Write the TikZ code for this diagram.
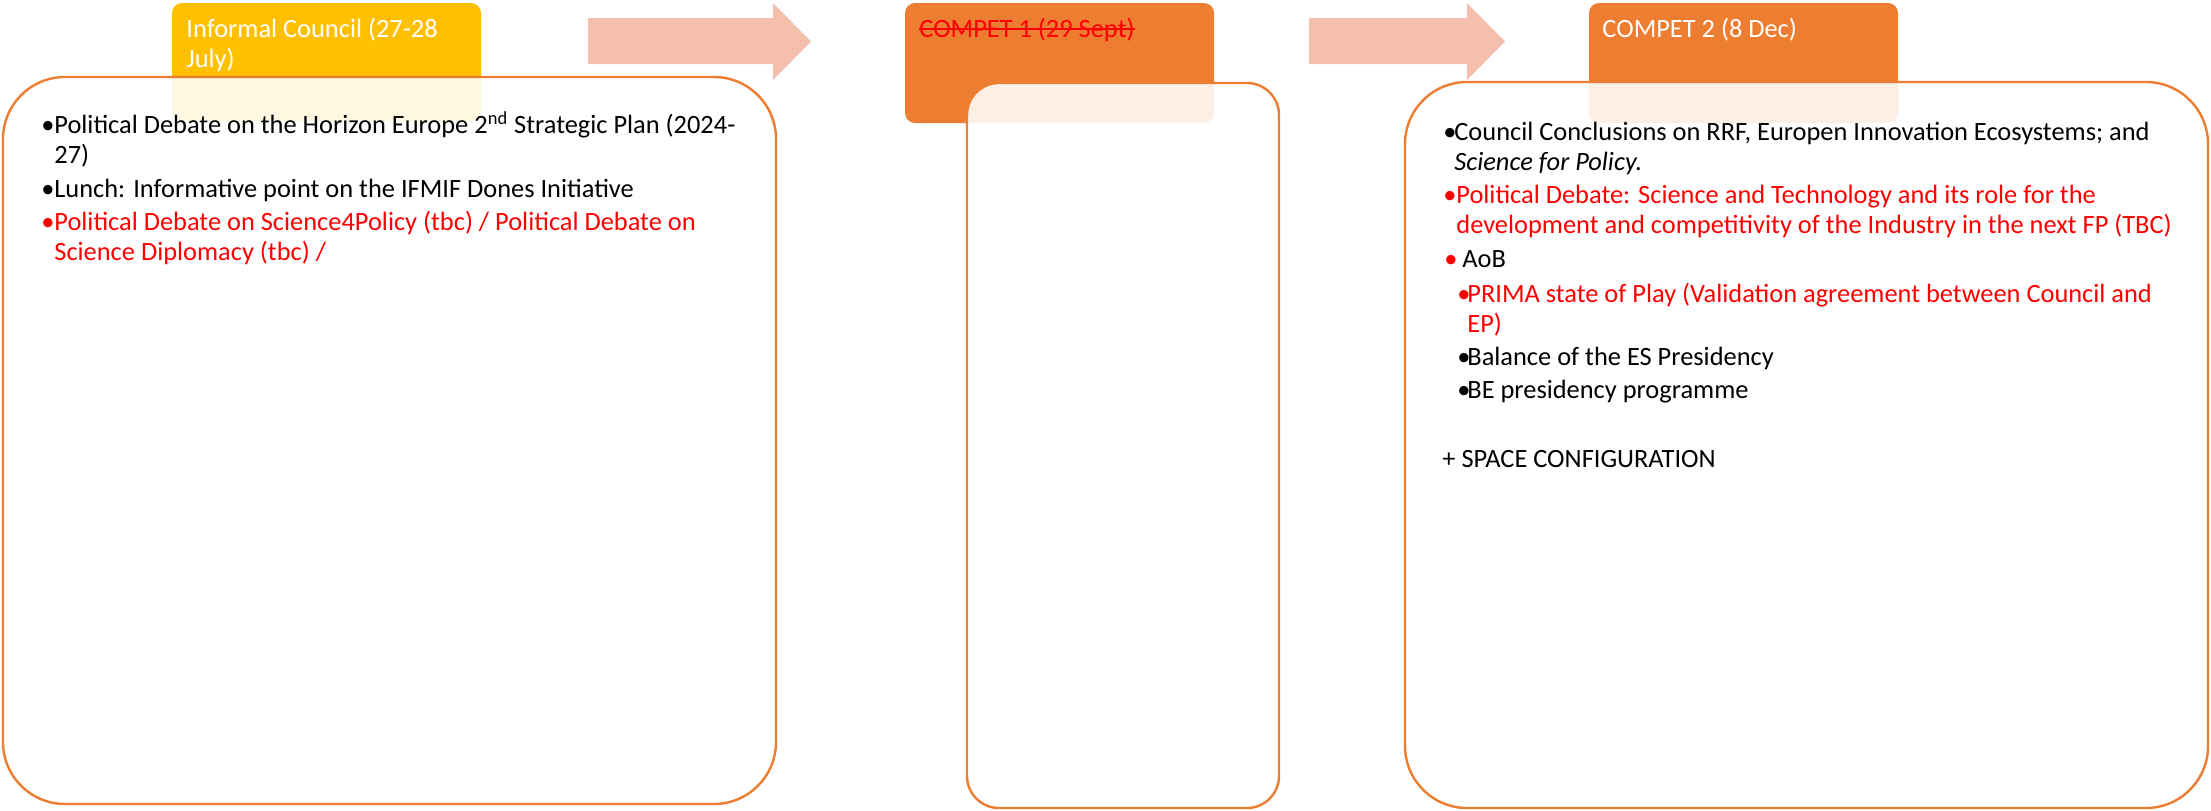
\documentclass[tikz,border=0pt]{standalone}
\usepackage{fontspec}
\setmainfont{Carlito}

\definecolor{accorange}{HTML}{ED7D31}
\definecolor{accyellow}{HTML}{FFC000}
\definecolor{arrowpink}{HTML}{F4BFAD}
\definecolor{tbcred}{HTML}{FF0000}

% bullet point: [bullet colour]{gap}{text}
\newcommand{\agitem}[3][.]{\parbox[t]{400pt}{\hangindent=#2\hangafter=1\noindent\makebox[#2][l]{\textcolor{#1}{\textbullet}}#3}}

\begin{document}
\begin{tikzpicture}[x=0.5pt,y=-0.5pt,
	hdr/.style={rounded corners=5pt},
	agenda/.style={draw=accorange, line width=1.2pt, fill=white, fill opacity=.88},
	lbl/.style={anchor=base west, inner sep=0pt, font=\fontsize{13.2pt}{15pt}\selectfont}]
	\useasboundingbox (0,0) rectangle (2211,810);

	% arrows between meetings
	\foreach \xa/\xb/\xc in {588/773/811, 1309/1467/1505}
		\fill[arrowpink] (\xa,18) -- (\xb,18) -- (\xb,3) -- (\xc,41.5) -- (\xb,80) -- (\xb,64) -- (\xa,64) -- cycle;

	% headers
	\fill[accyellow, hdr] (172,3) rectangle (481,121);
	\fill[accorange, hdr] (905,3) rectangle (1214,123);
	\fill[accorange, hdr] (1589,3) rectangle (1898,123);
	\node[lbl, text=white] (informal) at (186,37) {\parbox[t]{150pt}{Informal Council (27-28\\July)}};
	\node[lbl, text=tbcred] (compet1) at (919,37) {COMPET 1 (29 Sept)};
	\draw[tbcred, line width=0.6pt] ([yshift=4pt]compet1.base west) -- ([yshift=4pt]compet1.base east);
	\node[lbl, text=white] (compet2) at (1602,37) {COMPET 2 (8 Dec)};

	% agenda boxes
	\draw[agenda, rounded corners=31pt] (3,77) rectangle (776,804);
	\draw[agenda, rounded corners=16pt] (967,83) rectangle (1279,808);
	\draw[agenda, rounded corners=31pt] (1405,82) rectangle (2208,808);

	% informal council
	\node[lbl] (inf1) at (41,133) {\agitem{6.5pt}{Political Debate on the Horizon Europe 2\textsuperscript{nd} Strategic Plan (2024-\\27)}};
	\node[lbl] (inf2) at (41,197) {\agitem{6.5pt}{Lunch: Informative point on the IFMIF Dones Initiative}};
	\node[lbl, text=tbcred] (inf3) at (41,230) {\agitem{6.5pt}{Political Debate on Science4Policy (tbc) / Political Debate on\\Science Diplomacy (tbc) /}};

	% compet 2
	\node[lbl] (dec1) at (1443,140) {\agitem{5.5pt}{Council Conclusions on RRF, Europen Innovation Ecosystems; and\\\textit{Science for Policy.}}};
	\node[lbl, text=tbcred] (dec2) at (1443,203) {\agitem{6.5pt}{Political Debate: Science and Technology and its role for the\\development and competitivity of the Industry in the next FP (TBC)}};
	\node[lbl] (dec3) at (1444,267) {\agitem[tbcred]{9pt}{AoB}};
	\node[lbl, text=tbcred] (dec4) at (1457,302) {\agitem{5pt}{PRIMA state of Play (Validation agreement between Council and\\EP)}};
	\node[lbl] (dec5) at (1457,365) {\agitem{5pt}{Balance of the ES Presidency}};
	\node[lbl] (dec6) at (1457,398) {\agitem{5pt}{BE presidency programme}};
	\node[lbl] (dec7) at (1442,467) {+ SPACE CONFIGURATION};
\end{tikzpicture}
\end{document}
